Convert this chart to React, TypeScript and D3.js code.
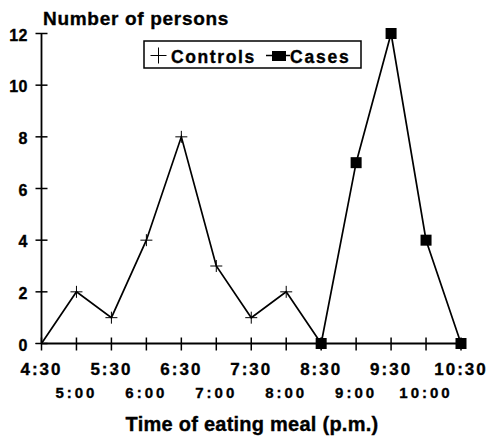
import * as d3 from "d3";
import { useEffect, useRef } from "react";

const times = ["4:30", "5:00", "5:30", "6:00", "6:30", "7:00", "7:30", "8:00", "8:30", "9:00", "9:30", "10:00", "10:30"];
const controlTimes = ["4:30", "5:00", "5:30", "6:00", "6:30", "7:00", "7:30", "8:00", "8:30"];
const controlValues = [0, 2, 1, 4, 8, 3, 1, 2, 0];
const caseTimes = ["8:30", "9:00", "9:30", "10:00", "10:30"];
const caseValues = [0, 7, 12, 4, 0];
const yTicks = [0, 2, 4, 6, 8, 10, 12];

interface Pt {
  t: string;
  v: number;
}

const App = () => {
  const svgRef = useRef<SVGSVGElement>(null);

  useEffect(() => {
    const svg = d3.select(svgRef.current);
    svg.selectAll("*").remove();

    const width = 487;
    const height = 439;
    const font = "'Liberation Sans', Arial, sans-serif";

    svg.attr("width", width).attr("height", height).style("background", "#fff");

    const x = d3.scalePoint<string>().domain(times).range([41.5, 461]);
    const y = d3.scaleLinear().domain([0, 12]).range([343.5, 33.5]);

    const g = svg.append("g");

    // heavier text, like the scanned original
    const boldText = (sel: any, size: string, spacing: string) =>
      sel
        .style("font-family", font)
        .style("font-weight", "bold")
        .style("font-size", size)
        .style("letter-spacing", spacing)
        .attr("stroke", "#000")
        .attr("stroke-width", 0.35);

    // axes lines
    g.append("line")
      .attr("x1", x("4:30")!)
      .attr("x2", x("4:30")!)
      .attr("y1", y(12))
      .attr("y2", y(0))
      .attr("stroke", "#000")
      .attr("stroke-width", 1.8);
    g.append("line")
      .attr("x1", x("4:30")!)
      .attr("x2", x("10:30")!)
      .attr("y1", y(0))
      .attr("y2", y(0))
      .attr("stroke", "#000")
      .attr("stroke-width", 1.8);

    // y ticks
    g.selectAll(".yt")
      .data(yTicks)
      .enter()
      .append("line")
      .attr("x1", x("4:30")! - 6)
      .attr("x2", x("4:30")! + 6)
      .attr("y1", (d) => y(d))
      .attr("y2", (d) => y(d))
      .attr("stroke", "#000")
      .attr("stroke-width", 1.5);

    boldText(
      g.selectAll(".yl")
        .data(yTicks)
        .enter()
        .append("text")
        .attr("x", 28)
        .attr("y", (d: number) => y(d) + 7)
        .attr("text-anchor", "end")
        .text((d: number) => d),
      "16px",
      "0.5px"
    );

    // x ticks
    g.selectAll(".xt")
      .data(times)
      .enter()
      .append("line")
      .attr("x1", (d) => x(d)!)
      .attr("x2", (d) => x(d)!)
      .attr("y1", y(0) - 6)
      .attr("y2", y(0) + 7)
      .attr("stroke", "#000")
      .attr("stroke-width", 1.5);

    const xl = g.selectAll(".xl")
      .data(times)
      .enter()
      .append("text")
      .attr("x", (d) => x(d)!)
      .attr("y", (d, i) => (i % 2 === 0 ? 374.5 : 397.5))
      .attr("text-anchor", "middle")
      .text((d) => d);
    boldText(xl, "17px", "2px");
    xl.style("font-size", (d: string, i: number) => (i % 2 === 0 ? "17px" : "15px"))
      .style("letter-spacing", (d: string, i: number) => (i % 2 === 0 ? "2px" : "3px"));

    // titles
    boldText(
      g.append("text").attr("x", 43).attr("y", 25).text("Number of persons"),
      "19px",
      "0.7px"
    );

    boldText(
      g.append("text")
        .attr("x", 252)
        .attr("y", 431)
        .attr("text-anchor", "middle")
        .text("Time of eating meal (p.m.)"),
      "20px",
      "0.25px"
    );

    const line = d3
      .line<Pt>()
      .x((d) => x(d.t)!)
      .y((d) => y(d.v));

    const controls: Pt[] = controlTimes.map((t, i) => ({ t, v: controlValues[i] }));
    const cases: Pt[] = caseTimes.map((t, i) => ({ t, v: caseValues[i] }));

    g.append("path")
      .datum(controls)
      .attr("d", line)
      .attr("fill", "none")
      .attr("stroke", "#000")
      .attr("stroke-width", 1.7);

    g.append("path")
      .datum(cases)
      .attr("d", line)
      .attr("fill", "none")
      .attr("stroke", "#000")
      .attr("stroke-width", 1.7);

    // plus markers
    const plus = (sel: any, cx: number, cy: number, r: number) => {
      sel.append("line").attr("x1", cx - r).attr("x2", cx + r).attr("y1", cy).attr("y2", cy)
        .attr("stroke", "#000").attr("stroke-width", 1);
      sel.append("line").attr("x1", cx).attr("x2", cx).attr("y1", cy - r).attr("y2", cy + r)
        .attr("stroke", "#000").attr("stroke-width", 1);
    };
    controls.forEach((d) => plus(g, x(d.t)!, y(d.v), 6));

    g.selectAll(".sq")
      .data(cases)
      .enter()
      .append("rect")
      .attr("x", (d) => x(d.t)! - 5.5)
      .attr("y", (d) => y(d.v) - 5.5)
      .attr("width", 11)
      .attr("height", 11)
      .attr("fill", "#000");

    // legend
    const lg = g.append("g");
    lg.append("rect")
      .attr("x", 144)
      .attr("y", 41)
      .attr("width", 217)
      .attr("height", 27)
      .attr("fill", "#fff")
      .attr("stroke", "#000")
      .attr("stroke-width", 1.5);
    plus(lg, 158.5, 55.5, 8);
    boldText(lg.append("text").attr("x", 171).attr("y", 63).text("Controls"), "17.5px", "1.6px");
    lg.append("line").attr("x1", 266).attr("x2", 290).attr("y1", 55.5).attr("y2", 55.5)
      .attr("stroke", "#000").attr("stroke-width", 1.5);
    lg.append("rect").attr("x", 272).attr("y", 51).attr("width", 14).attr("height", 10).attr("fill", "#000");
    boldText(lg.append("text").attr("x", 290).attr("y", 63).text("Cases"), "17.5px", "1.8px");
  }, []);

  return <svg ref={svgRef} style={{ position: "absolute", left: 0, top: 0 }}></svg>;
};

export default App;
